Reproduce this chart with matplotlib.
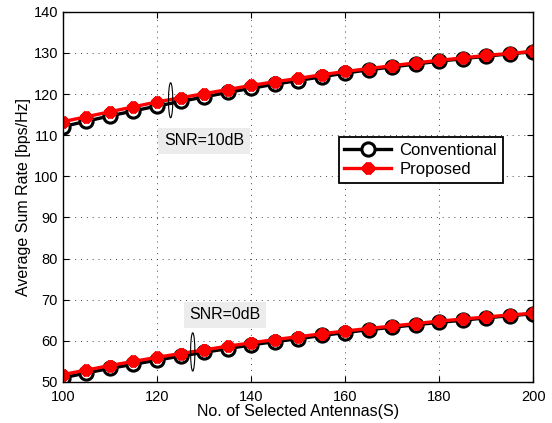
import numpy as np
from matplotlib import pyplot as plt
from matplotlib.patches import Ellipse

# Sum rate vs. number of selected antennas, two SNR levels

antennas = list(range(100, 201, 5))

conv_10db = [112.1, 113.4, 114.7, 115.9, 117.1, 118.2, 119.3, 120.4, 121.4, 122.4,
             123.3, 124.2, 125.1, 125.9, 126.6, 127.3, 128.0, 128.6, 129.2, 129.8, 130.3]
prop_10db = [113.3, 114.5, 115.7, 116.9, 118.1, 119.1, 120.1, 121.1, 122.1, 123.0,
             123.8, 124.7, 125.5, 126.2, 126.9, 127.6, 128.2, 128.8, 129.4, 129.9, 130.4]

conv_0db = [51.0, 52.2, 53.3, 54.3, 55.3, 56.3, 57.2, 58.1, 59.0, 59.8,
            60.5, 61.3, 62.0, 62.7, 63.3, 63.9, 64.5, 65.0, 65.6, 66.1, 66.6]
prop_0db = [51.8, 52.9, 54.0, 55.0, 56.0, 56.9, 57.8, 58.7, 59.5, 60.3,
            61.0, 61.7, 62.4, 63.0, 63.6, 64.2, 64.8, 65.3, 65.8, 66.3, 66.7]

x_ticks = [100, 120, 140, 160, 180, 200]
y_ticks = [50, 60, 70, 80, 90, 100, 110, 120, 130, 140]

plt.rcParams['font.family'] = ['Liberation Sans', 'DejaVu Sans']

fig = plt.figure(figsize=(5.52, 4.23), dpi=100)
ax = fig.add_axes([0.114, 0.097, 0.852, 0.875])

conv_style = dict(color='k', lw=2.4, marker='o', ms=9.5, mfc='white', mec='k', mew=2.2)
prop_style = dict(color='r', lw=2.4, marker=(8, 2, 0), ms=8.5, mec='r', mew=3.5)

ax.plot(antennas, conv_10db, label='Conventional', **conv_style)
ax.plot(antennas, prop_10db, label='Proposed', **prop_style)
ax.plot(antennas, conv_0db, **conv_style)
ax.plot(antennas, prop_0db, **prop_style)

# ellipses marking each SNR group
ax.add_patch(Ellipse((122.9, 118.5), 0.9, 8.5, fill=False, ec='k', lw=0.8, zorder=5))
ax.add_patch(Ellipse((127.6, 57.3), 0.9, 9.3, fill=False, ec='k', lw=0.8, zorder=5))

box = dict(facecolor='#ececec', edgecolor='none', pad=4)
ax.text(130.0, 108.6, 'SNR=10dB', fontsize=11.5, ha='center', va='center', bbox=box)
ax.text(134.5, 66.3, 'SNR=0dB', fontsize=11.5, ha='center', va='center', bbox=box)

ax.set_xlim(100, 200)
ax.set_ylim(50, 140)
ax.set_xticks(x_ticks)
ax.set_yticks(y_ticks)
ax.tick_params(direction='in', top=True, right=True, labelsize=10.5, length=4)
ax.tick_params(axis='x', pad=6)
ax.grid(True, linestyle=(0, (1, 5)), color='#444444', lw=0.7)
for s in ax.spines.values():
    s.set_linewidth(1.0)

ax.set_xlabel('No. of Selected Antennas(S)', fontsize=11.5, labelpad=0)
ax.set_ylabel('Average Sum Rate [bps/Hz]', fontsize=11.5, labelpad=2)

leg = ax.legend(loc='upper right', bbox_to_anchor=(0.953, 0.685), fontsize=12,
                fancybox=False, edgecolor='k', framealpha=1, handlelength=2.8,
                borderpad=0.35, labelspacing=0.25, handletextpad=0.5)
leg.get_frame().set_linewidth(1.3)

fig.savefig('out.png', dpi=100)
